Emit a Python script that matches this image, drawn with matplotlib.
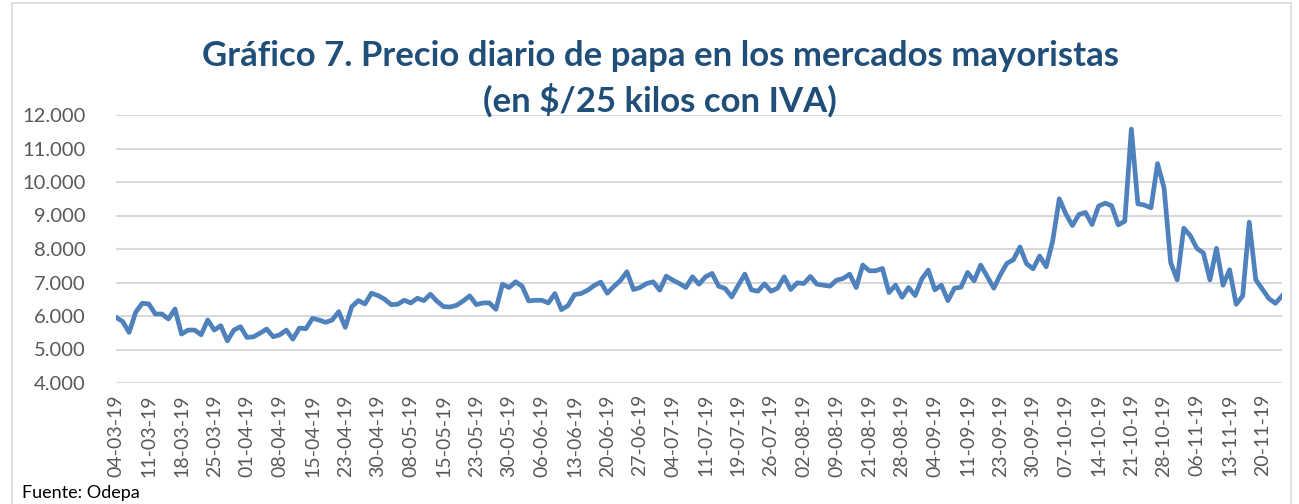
import numpy as np
import matplotlib
matplotlib.use("Agg")
import matplotlib.pyplot as plt
from matplotlib.patches import Rectangle

###############################################################################
## Datos: precio diario de papa ($/25 kilos con IVA), un valor por dia habil
precio = [5960, 5840, 5510, 6110, 6380, 6360, 6060, 6060, 5910, 6210,
          5460, 5580, 5580, 5440, 5880, 5580, 5710, 5260, 5580, 5680,
          5360, 5380, 5490, 5610, 5380, 5440, 5580, 5310, 5640, 5620,
          5930, 5880, 5810, 5880, 6130, 5660, 6280, 6460, 6360, 6680,
          6610, 6500, 6340, 6350, 6470, 6390, 6530, 6460, 6650, 6440,
          6280, 6270, 6320, 6450, 6600, 6340, 6390, 6390, 6200, 6950,
          6850, 7020, 6890, 6450, 6470, 6470, 6390, 6670, 6190, 6310,
          6640, 6670, 6770, 6910, 7010, 6680, 6880, 7060, 7320, 6790,
          6850, 6970, 7020, 6770, 7190, 7070, 6970, 6850, 7170, 6950,
          7170, 7270, 6890, 6820, 6570, 6920, 7250, 6780, 6740, 6960,
          6740, 6830, 7170, 6790, 6990, 6970, 7180, 6950, 6920, 6890,
          7070, 7120, 7250, 6850, 7520, 7350, 7350, 7420, 6700, 6920,
          6560, 6850, 6610, 7100, 7370, 6780, 6920, 6460, 6830, 6860,
          7300, 7050, 7520, 7180, 6830, 7230, 7570, 7680, 8060, 7560,
          7410, 7790, 7470, 8250, 9500, 9050, 8700, 9030, 9090, 8730,
          9280, 9370, 9290, 8720, 8830, 11580, 9350, 9310, 9230, 10550,
          9820, 7600, 7080, 8620, 8400, 8020, 7880, 7080, 8020, 6920,
          7380, 6350, 6600, 8800, 7080, 6800, 6520, 6380, 6600]

# etiquetas del eje x (una cada 5 dias)
etiquetas = ["04-03-19", "11-03-19", "18-03-19", "25-03-19", "01-04-19",
             "08-04-19", "15-04-19", "23-04-19", "30-04-19", "08-05-19",
             "15-05-19", "23-05-19", "30-05-19", "06-06-19", "13-06-19",
             "20-06-19", "27-06-19", "04-07-19", "11-07-19", "19-07-19",
             "26-07-19", "02-08-19", "09-08-19", "21-08-19", "28-08-19",
             "04-09-19", "11-09-19", "23-09-19", "30-09-19", "07-10-19",
             "14-10-19", "21-10-19", "28-10-19", "06-11-19", "13-11-19",
             "20-11-19"]
paso = 5

yticks = [4000, 5000, 6000, 7000, 8000, 9000, 10000, 11000, 12000]
###############################################################################

plt.rcParams['font.family'] = ['Lato', 'DejaVu Sans']

W, H = 1299, 504
fig = plt.figure(figsize=(W / 100, H / 100), dpi=100)
ax = fig.add_axes([116 / W, (H - 383) / H, (1282 - 116) / W, (383 - 115) / H])

x = np.arange(len(precio))
ax.plot(x, precio, color='#4F81BD', linewidth=3.4, solid_joinstyle='round')

ax.set_xlim(0, len(precio) - 1)
ax.set_ylim(4000, 12000)
ax.set_yticks(yticks)
ax.set_yticklabels([f"{v:,}".replace(",", ".") for v in yticks],
                   fontsize=14.5, color='#595959')
ax.set_xticks(np.arange(len(etiquetas)) * paso)
ax.set_xticklabels(etiquetas, rotation=90, fontsize=14, color='#595959')
ax.tick_params(axis='x', length=0, pad=8)
ax.tick_params(axis='y', length=0, pad=22)

ax.grid(axis='y', color='#D9D9D9', linewidth=1.5)
ax.set_axisbelow(True)
for s in ax.spines.values():
    s.set_visible(False)

# titulo
fig.text(660 / W, 1 - 56 / H, "Gráfico 7. Precio diario de papa en los mercados mayoristas",
         ha='center', va='center', fontsize=25, fontweight='bold', color='#1F4E79')
fig.text(660 / W, 1 - 100 / H, "(en $/25 kilos con IVA)",
         ha='center', va='center', fontsize=25, fontweight='bold', color='#1F4E79')

# fuente
fig.text(22 / W, 1 - 485 / H, "Fuente: Odepa", ha='left', va='top', fontsize=13, color='black')

# borde del grafico
fig.patches.append(Rectangle((12 / W, -0.05), (1291 - 12) / W, 1.05 - 3 / H,
                             transform=fig.transFigure, fill=False,
                             edgecolor='#D9D9D9', linewidth=1.2))

fig.savefig("out.png", dpi=100)
